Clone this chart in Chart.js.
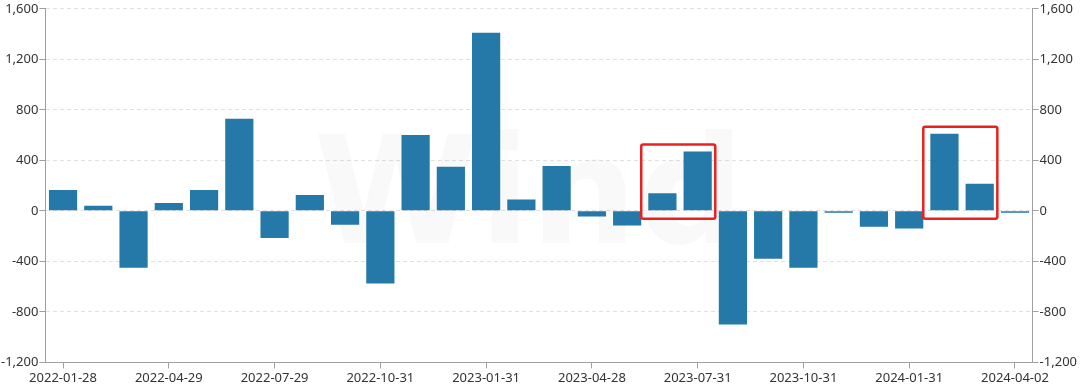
<!DOCTYPE html>
<html>
<head>
<meta charset="utf-8">
<script src="https://cdn.jsdelivr.net/npm/chart.js@4/dist/chart.umd.min.js"></script>
<style>
	html, body { margin: 0; padding: 0; background: #fff; }
	#wrap { width: 1080px; height: 388px; }
</style>
</head>
<body>
<div id="wrap"><canvas id="barChart"></canvas></div>
<script>
var fechas = [
	'2022-01-28', '2022-02-28', '2022-03-31', '2022-04-29', '2022-05-31', '2022-06-30',
	'2022-07-29', '2022-08-31', '2022-09-30', '2022-10-31', '2022-11-30', '2022-12-30',
	'2023-01-31', '2023-02-28', '2023-03-31', '2023-04-28', '2023-05-31', '2023-06-30',
	'2023-07-31', '2023-08-31', '2023-09-28', '2023-10-31', '2023-11-30', '2023-12-29',
	'2024-01-31', '2024-02-29', '2024-03-29', '2024-04-02'
];

var valores = [
	165, 40, -450, 63, 165, 730,
	-215, 125, -110, -575, 600, 350,
	1410, 90, 355, -45, -115, 140,
	470, -900, -380, -450, -15, -125,
	-140, 610, 215, -15
];

// rangos de barras marcadas con recuadro rojo (indice inicial, indice final)
var destacados = [[17, 18], [25, 26]];

var yMin = -1200;
var yMax = 1600;
var yPaso = 400;

// recuadros rojos
var recuadros = {
	id: 'recuadros',
	afterDatasetsDraw: function(chart) {
		var ctx = chart.ctx;
		var x = chart.scales.x;
		var y = chart.scales.y;
		var paso = x.getPixelForValue(1) - x.getPixelForValue(0);
		ctx.save();
		ctx.strokeStyle = '#e8231f';
		ctx.lineWidth = 2.5;
		destacados.forEach(function(d) {
			var maxV = 0;
			for (var i = d[0]; i <= d[1]; i++) maxV = Math.max(maxV, valores[i]);
			var x0 = x.getPixelForValue(d[0]) - paso * 0.6;
			var x1 = x.getPixelForValue(d[1]) + paso * 0.5;
			var y0 = y.getPixelForValue(maxV) - 7;
			var y1 = y.getPixelForValue(0) + 8;
			ctx.beginPath();
			if (ctx.roundRect) ctx.roundRect(x0, y0, x1 - x0, y1 - y0, 2);
			else ctx.rect(x0, y0, x1 - x0, y1 - y0);
			ctx.stroke();
		});
		ctx.restore();
	}
};

// marca de agua tenue
var marcaAgua = {
	id: 'marcaAgua',
	beforeDatasetsDraw: function(chart) {
		var ctx = chart.ctx;
		var a = chart.chartArea;
		ctx.save();
		ctx.fillStyle = 'rgba(0,0,0,0.022)';
		ctx.font = 'bold 150px "DejaVu Sans", sans-serif';
		ctx.textAlign = 'center';
		ctx.textBaseline = 'alphabetic';
		ctx.fillText('Wind', (a.left + a.right) / 2 - 10, 243);
		ctx.restore();
	}
};

function formatoMiles(v) {
	return v.toLocaleString('en-US');
}

var fuente = { family: '"Noto Sans", sans-serif', size: 13 };

var ejeY = function(pos) {
	return {
		position: pos,
		min: yMin,
		max: yMax,
		border: { display: true, color: '#a0a0a0', width: 1, dash: [4, 3] },
		grid: {
			drawOnChartArea: pos === 'left',
			color: '#e0e0e0',
			tickColor: '#a0a0a0',
			tickBorderDash: [],
			tickLength: 6
		},
		ticks: {
			stepSize: yPaso,
			color: '#333',
			padding: 1,
			font: fuente,
			callback: function(v) { return formatoMiles(v); }
		}
	};
};

var ctx = document.getElementById('barChart').getContext('2d');
new Chart(ctx, {
	type: 'bar',
	data: {
		labels: fechas,
		datasets: [{
			data: valores,
			backgroundColor: '#2479a9',
			borderWidth: 0,
			barPercentage: 0.8,
			categoryPercentage: 1.0,
			yAxisID: 'y'
		}]
	},
	options: {
		responsive: true,
		maintainAspectRatio: false,
		animation: false,
		layout: { padding: { top: 2, right: 2, left: 0, bottom: 0 } },
		plugins: {
			legend: { display: false },
			tooltip: { enabled: false }
		},
		scales: {
			x: {
				offset: true,
				border: { display: true, color: '#a0a0a0', width: 1 },
				grid: {
					offset: false,
					drawOnChartArea: false,
					tickColor: '#a0a0a0',
					tickLength: 6
				},
				ticks: {
					autoSkip: false,
					maxRotation: 0,
					color: '#333',
					padding: 2,
					font: fuente,
					callback: function(v, i) {
						return i % 3 === 0 ? fechas[i] : null;
					}
				}
			},
			y: ejeY('left'),
			y2: ejeY('right')
		}
	},
	plugins: [marcaAgua, recuadros]
});
</script>
</body>
</html>
